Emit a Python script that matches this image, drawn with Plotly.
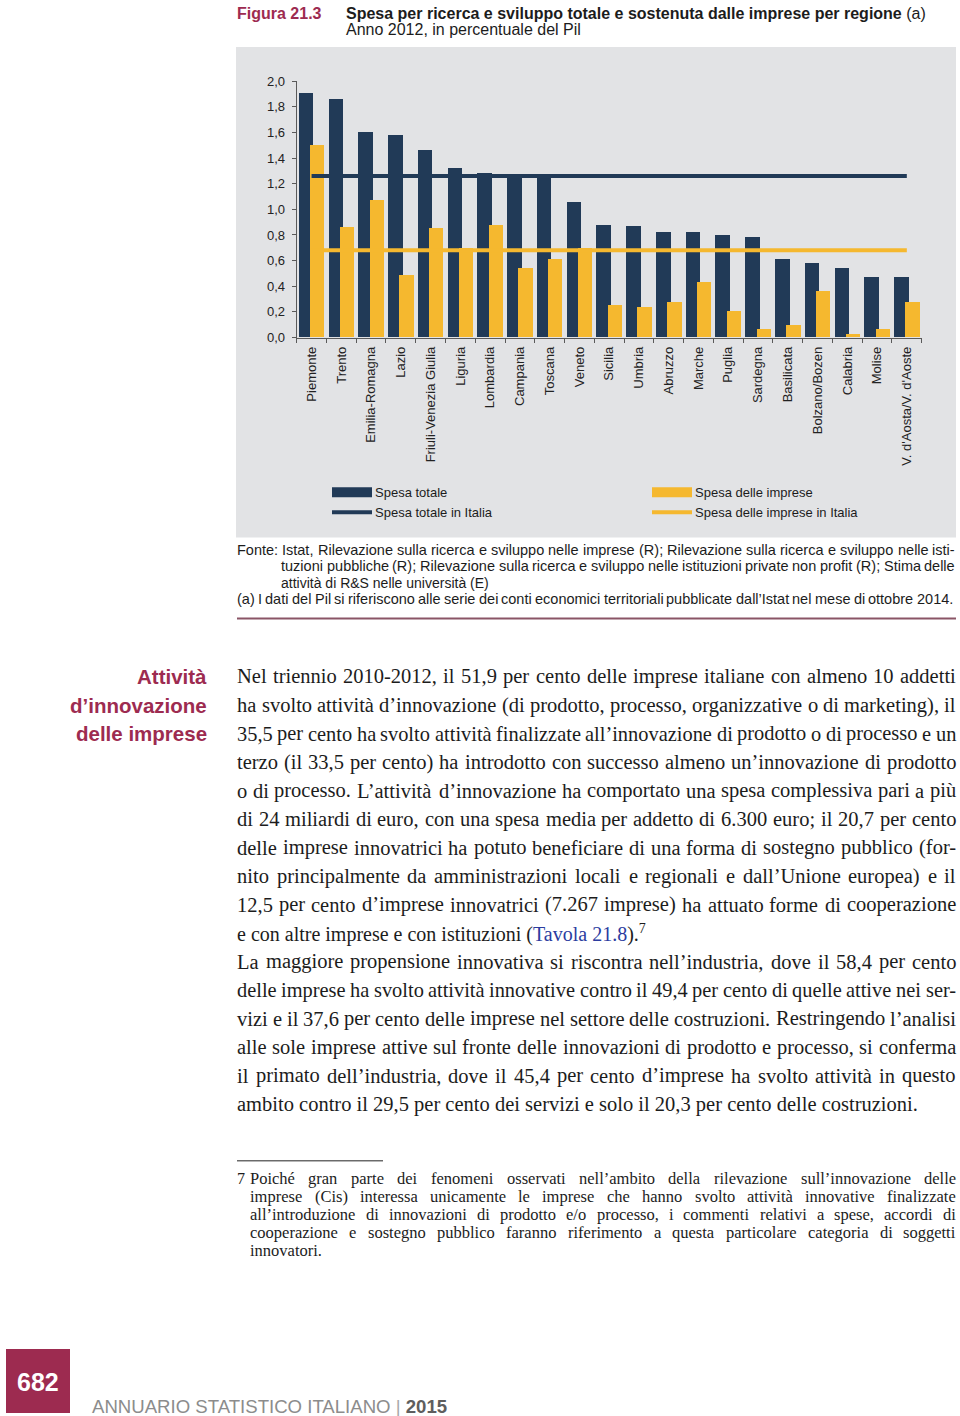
import plotly.graph_objects as go

# ---------------- data ----------------
regions = ["Piemonte", "Trento", "Emilia-Romagna", "Lazio", "Friuli-Venezia Giulia",
           "Liguria", "Lombardia", "Campania", "Toscana", "Veneto", "Sicilia", "Umbria",
           "Abruzzo", "Marche", "Puglia", "Sardegna", "Basilicata", "Bolzano/Bozen",
           "Calabria", "Molise", "V. d'Aosta/V. d'Aoste"]
spesa_totale = [1.91, 1.86, 1.60, 1.58, 1.46, 1.32, 1.28, 1.26, 1.26, 1.06, 0.88,
                0.87, 0.82, 0.82, 0.80, 0.78, 0.61, 0.58, 0.54, 0.47, 0.47]
spesa_imprese = [1.50, 0.86, 1.07, 0.49, 0.85, 0.70, 0.88, 0.54, 0.61, 0.70, 0.25,
                 0.24, 0.28, 0.43, 0.21, 0.07, 0.10, 0.36, 0.03, 0.07, 0.28]
italia_totale = 1.26
italia_imprese = 0.68
y_tick_values = [0.0, 0.2, 0.4, 0.6, 0.8, 1.0, 1.2, 1.4, 1.6, 1.8, 2.0]
y_tick_labels = ["0,0", "0,2", "0,4", "0,6", "0,8", "1,0", "1,2", "1,4", "1,6", "1,8", "2,0"]
legend_labels = ["Spesa totale", "Spesa delle imprese",
                 "Spesa totale in Italia", "Spesa delle imprese in Italia"]

fig_number = "Figura 21.3"
title_bold = "Spesa per ricerca e sviluppo totale e sostenuta dalle imprese per regione"
title_sub = "Anno 2012, in percentuale del Pil"
fonte_lines = [
    "Fonte: Istat, Rilevazione sulla ricerca e sviluppo nelle imprese (R); Rilevazione sulla ricerca e sviluppo nelle isti-",
    "tuzioni pubbliche (R); Rilevazione sulla ricerca e sviluppo nelle istituzioni private non profit (R); Stima delle",
    "attività di R&S nelle università (E)",
    "(a) I dati del Pil si riferiscono alle serie dei conti economici territoriali pubblicate dall’Istat nel mese di ottobre 2014.",
]
side_heading = ["Attività", "d’innovazione", "delle imprese"]
body_lines = [
    "Nel triennio 2010-2012, il 51,9 per cento delle imprese italiane con almeno 10 addetti",
    "ha svolto attività d’innovazione (di prodotto, processo, organizzative o di marketing), il",
    "35,5 per cento ha svolto attività finalizzate all’innovazione di prodotto o di processo e un",
    "terzo (il 33,5 per cento) ha introdotto con successo almeno un’innovazione di prodotto",
    "o di processo. L’attività d’innovazione ha comportato una spesa complessiva pari a più",
    "di 24 miliardi di euro, con una spesa media per addetto di 6.300 euro; il 20,7 per cento",
    "delle imprese innovatrici ha potuto beneficiare di una forma di sostegno pubblico (for-",
    "nito principalmente da amministrazioni locali e regionali e dall’Unione europea) e il",
    "12,5 per cento d’imprese innovatrici (7.267 imprese) ha attuato forme di cooperazione",
    "e con altre imprese e con istituzioni (<LINK>).<SUP>",
    "La maggiore propensione innovativa si riscontra nell’industria, dove il 58,4 per cento",
    "delle imprese ha svolto attività innovative contro il 49,4 per cento di quelle attive nei ser-",
    "vizi e il 37,6 per cento delle imprese nel settore delle costruzioni. Restringendo l’analisi",
    "alle sole imprese attive sul fronte delle innovazioni di prodotto e processo, si conferma",
    "il primato dell’industria, dove il 45,4 per cento d’imprese ha svolto attività in questo",
    "ambito contro il 29,5 per cento dei servizi e solo il 20,3 per cento delle costruzioni.",
]
body_justified = [True] * 9 + [False] + [True] * 5 + [False]
link_text = "Tavola 21.8"
footnote_mark = "7"
footnote_lines = [
    "Poiché gran parte dei fenomeni osservati nell’ambito della rilevazione sull’innovazione delle",
    "imprese (Cis) interessa unicamente le imprese che hanno svolto attività innovative finalizzate",
    "all’introduzione di innovazioni di prodotto e/o processo, i commenti relativi a spese, accordi di",
    "cooperazione e sostegno pubblico faranno riferimento a questa particolare categoria di soggetti",
    "innovatori.",
]
footnote_justified = [True, True, True, True, False]
page_number = "682"
footer_text = "ANNUARIO STATISTICO ITALIANO"
footer_year = "2015"

# ---------------- style ----------------
W = 960
H = 1430
# the page shows the figure with a small top offset and a slight vertical squeeze;
# positions below are page pixels, converted to figure coordinates.
V_SCALE = 0.9888
V_OFFSET = 7.0
NAVY = "#213a57"
GOLD = "#f5b82f"
PANEL = "#e2e3e5"
MAROON = "#9d2b50"
LINK = "#2b3c9f"
INK = "#1c1c1c"
SANS = "Liberation Sans, Arial, sans-serif"
SERIF = "Liberation Serif, Times New Roman, serif"


def X(p):
    return p / W


def Y(p):
    return 1 - ((p - V_OFFSET) / V_SCALE) / H


# Times (Liberation Serif) and Helvetica (Liberation Sans) advance widths, 1/1000 em
TIMES = {" ": 250, "!": 333, "(": 333, ")": 333, ",": 250, "-": 333, ".": 250, "/": 278,
         ":": 278, ";": 278, "?": 444, "’": 333, "'": 180, "&": 778,
         "A": 722, "B": 667, "C": 667, "D": 722, "E": 611, "F": 556, "G": 722, "H": 722,
         "I": 333, "J": 389, "K": 722, "L": 611, "M": 889, "N": 722, "O": 722, "P": 556,
         "Q": 722, "R": 667, "S": 556, "T": 611, "U": 722, "V": 722, "W": 944, "X": 722,
         "Y": 722, "Z": 611,
         "a": 444, "b": 500, "c": 444, "d": 500, "e": 444, "f": 333, "g": 500, "h": 500,
         "i": 278, "j": 278, "k": 500, "l": 278, "m": 778, "n": 500, "o": 500, "p": 500,
         "q": 500, "r": 333, "s": 389, "t": 278, "u": 500, "v": 500, "w": 722, "x": 500,
         "y": 500, "z": 444, "à": 444, "è": 444, "é": 444, "ù": 500, "ì": 278, "ò": 500}
for d in "0123456789":
    TIMES[d] = 500
HELV = {" ": 278, "!": 278, "(": 333, ")": 333, ",": 278, "-": 333, ".": 278, "/": 278,
        ":": 278, ";": 278, "?": 556, "’": 222, "'": 191, "&": 667,
        "A": 667, "B": 667, "C": 722, "D": 722, "E": 667, "F": 611, "G": 778, "H": 722,
        "I": 278, "J": 500, "K": 667, "L": 556, "M": 833, "N": 722, "O": 778, "P": 667,
        "Q": 778, "R": 722, "S": 667, "T": 611, "U": 722, "V": 667, "W": 944, "X": 667,
        "Y": 667, "Z": 611,
        "a": 556, "b": 556, "c": 500, "d": 556, "e": 556, "f": 278, "g": 556, "h": 556,
        "i": 222, "j": 222, "k": 500, "l": 222, "m": 833, "n": 556, "o": 556, "p": 556,
        "q": 556, "r": 333, "s": 500, "t": 278, "u": 556, "v": 500, "w": 722, "x": 500,
        "y": 500, "z": 500, "à": 556, "è": 556, "é": 556, "ù": 556, "ì": 278, "ò": 556}
for d in "0123456789":
    HELV[d] = 556


def esc(s):
    return s.replace("&", "&amp;")


annotations = []


def ann(text, x, y, size, color=INK, family=SANS, xanchor="left", yanchor="middle", **kw):
    annotations.append(dict(text=text, x=X(x), y=Y(y), xref="paper", yref="paper",
                            xanchor=xanchor, yanchor=yanchor, showarrow=False,
                            borderpad=0, borderwidth=0,
                            font=dict(size=size, color=color, family=family), **kw))


def place_line(text, x0, x1, y, base, table, family, color=INK, justify=True, min_space=0.22):
    words = text.split(" ")
    n = len(words)
    if not justify or n == 1:
        ann(esc(text), x0, y, base, color, family)
        return
    units = [sum(table.get(c, 500) for c in w) for w in words]
    tot = sum(units)
    width = x1 - x0
    size = min(base, width * 1000 / (tot + (n - 1) * min_space * 1000))
    gap = (width - tot * size / 1000) / (n - 1)
    x = x0
    for i, (w, u) in enumerate(zip(words, units)):
        if i == n - 1:
            ann(esc(w), x1, y, size, color, family, xanchor="right")
        else:
            ann(esc(w), x, y, size, color, family)
        x += u * size / 1000 + gap


# ---------------- traces ----------------
fig = go.Figure()
fig.add_trace(go.Bar(x=regions, y=spesa_totale, name=legend_labels[0],
                     marker=dict(color=NAVY, line=dict(width=0)),
                     offset=-0.44, width=0.49, showlegend=False))
fig.add_trace(go.Bar(x=regions, y=spesa_imprese, name=legend_labels[1],
                     marker=dict(color=GOLD, line=dict(width=0)),
                     offset=-0.06, width=0.48, showlegend=False))
fig.add_trace(go.Scatter(x=[regions[0], regions[-1]], y=[italia_totale, italia_totale],
                         mode="lines", name=legend_labels[2],
                         line=dict(color=NAVY, width=4), showlegend=False))
fig.add_trace(go.Scatter(x=[regions[0], regions[-1]], y=[italia_imprese, italia_imprese],
                         mode="lines", name=legend_labels[3],
                         line=dict(color=GOLD, width=4), showlegend=False))

# ---------------- shapes ----------------
shapes = [
    # grey chart panel
    dict(type="rect", xref="paper", yref="paper", x0=X(236), x1=X(956), y0=Y(537), y1=Y(47),
         fillcolor=PANEL, line=dict(width=0), layer="below"),
    # legend symbols
    dict(type="rect", xref="paper", yref="paper", x0=X(332), x1=X(372), y0=Y(497), y1=Y(487),
         fillcolor=NAVY, line=dict(width=0)),
    dict(type="rect", xref="paper", yref="paper", x0=X(652), x1=X(692), y0=Y(497), y1=Y(487),
         fillcolor=GOLD, line=dict(width=0)),
    dict(type="line", xref="paper", yref="paper", x0=X(332), x1=X(372), y0=Y(512), y1=Y(512),
         line=dict(color=NAVY, width=4)),
    dict(type="line", xref="paper", yref="paper", x0=X(652), x1=X(692), y0=Y(512), y1=Y(512),
         line=dict(color=GOLD, width=4)),
    # maroon rule under sources
    dict(type="line", xref="paper", yref="paper", x0=X(237), x1=X(956), y0=Y(618), y1=Y(618),
         line=dict(color="#8a5566", width=2)),
    # footnote rule
    dict(type="line", xref="paper", yref="paper", x0=X(237), x1=X(383), y0=Y(1160), y1=Y(1160),
         line=dict(color="#222222", width=1)),
    # page number block
    dict(type="rect", xref="paper", yref="paper", x0=X(6), x1=X(70), y0=Y(1412), y1=Y(1348),
         fillcolor=MAROON, line=dict(width=0)),
]

# ---------------- texts ----------------
ann("<b>" + fig_number + "</b>", 237, 13.5, 16, MAROON, SANS)
ann("<b>" + title_bold + "</b> (a)", 346, 13.5, 16, INK, SANS)
ann(title_sub, 346, 29, 16, INK, SANS)

ann(legend_labels[0], 375, 492, 13, INK, SANS)
ann(legend_labels[2], 375, 512, 13, INK, SANS)
ann(legend_labels[1], 695, 492, 13, INK, SANS)
ann(legend_labels[3], 695, 512, 13, INK, SANS)

place_line(fonte_lines[0], 237, 955, 550, 14.5, HELV, SANS)
place_line(fonte_lines[1], 281, 955, 566, 14.5, HELV, SANS)
place_line(fonte_lines[2], 281, 955, 583, 14, HELV, SANS, justify=False)
place_line(fonte_lines[3], 237, 953, 599, 14.5, HELV, SANS)

for i, t in enumerate(side_heading):
    ann("<b>" + t + "</b>", 207, 676 + 28.5 * i, 20.5, MAROON, SANS, xanchor="right")

for i, (t, j) in enumerate(zip(body_lines, body_justified)):
    y = 676 + 28.5 * i
    if "<LINK>" in t:
        txt = t.replace("<LINK>", '<span style="color:%s">%s</span>' % (LINK, link_text))
        txt = txt.replace("<SUP>", "<sup>7</sup>")
        ann(txt, 237, y, 20, INK, SERIF)
    else:
        place_line(t, 237, 956, y, 20.5, TIMES, SERIF, justify=j)

ann(footnote_mark, 237, 1178, 16, INK, SERIF)
for i, (t, j) in enumerate(zip(footnote_lines, footnote_justified)):
    place_line(t, 250, 956, 1178 + 18 * i, 16.5, TIMES, SERIF, justify=j)

ann("<b>" + page_number + "</b>", 38, 1381, 25, "#ffffff", SANS, xanchor="center")
ann(footer_text + ' <span style="color:#a8a8a8">|</span> <b><span style="color:#5e5e5e">'
    + footer_year + "</span></b>", 92, 1405, 18.6, "#8c8c8c", SANS)

# ---------------- layout ----------------
fig.update_layout(
    width=W, height=H, autosize=False,
    margin=dict(l=0, r=0, t=0, b=0),
    paper_bgcolor="#ffffff", plot_bgcolor="rgba(0,0,0,0)",
    barmode="overlay", bargap=0,
    showlegend=False,
    shapes=shapes, annotations=annotations,
    font=dict(family=SANS, color=INK, size=13),
    xaxis=dict(domain=[X(296.7), X(921.7)], range=[-0.5, len(regions) - 0.5],
               showline=True, linecolor="#5a5a5a", linewidth=1,
               ticks="outside", tickson="boundaries", ticklen=4, tickcolor="#5a5a5a",
               tickangle=-90, tickfont=dict(size=13, color="#222222", family=SANS),
               showgrid=False, zeroline=False, ticklabelstandoff=3),
    yaxis=dict(domain=[Y(337.3), Y(81)], range=[0, 2.0],
               tickvals=y_tick_values, ticktext=y_tick_labels,
               showline=True, linecolor="#5a5a5a", linewidth=1,
               ticks="outside", ticklen=4, tickcolor="#5a5a5a",
               tickfont=dict(size=13, color="#222222", family=SANS),
               showgrid=False, zeroline=False, ticklabelstandoff=4),
)

fig.write_html("out.html")
